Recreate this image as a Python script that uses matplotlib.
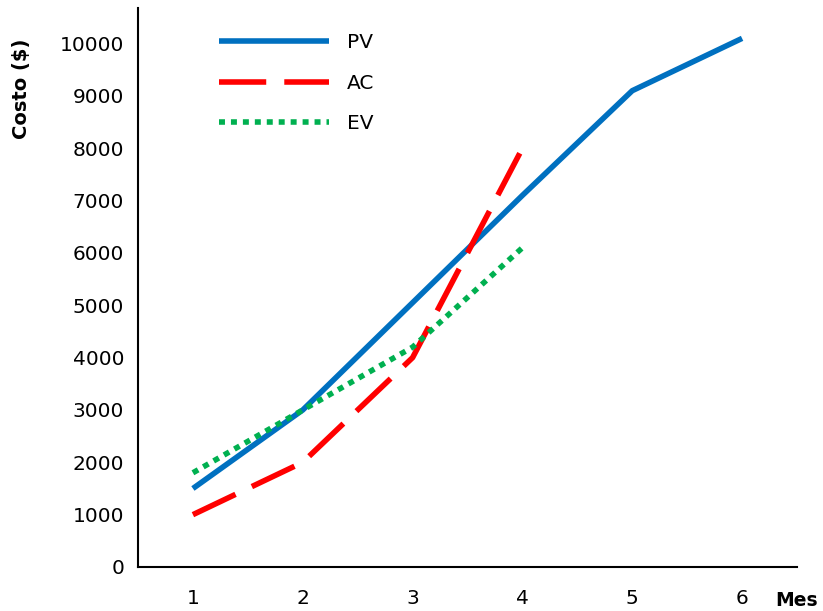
import numpy as np
import matplotlib
matplotlib.use("Agg")
import matplotlib.pyplot as plt

plt.rcParams['font.family'] = ['DejaVu Sans']
plt.rcParams['lines.scale_dashes'] = False

meses = [1, 2, 3, 4, 5, 6]
pv = [1500, 3000, 5050, 7100, 9100, 10100]
ac = [1000, 2000, 4000, 8000]
ev = [1800, 3000, 4200, 6100]

fig = plt.figure(figsize=(8.23, 6.11), dpi=100)
ax = fig.add_axes([138/823, 1 - 567/611, (797 - 138)/823, (567 - 8)/611])

ax.plot(meses, pv, color='#0070C0', lw=4, solid_capstyle='butt', label='PV')
ax.plot(meses[:len(ac)], ac, color='#FF0000', lw=4, dashes=(34, 13),
        dash_capstyle='butt', label='AC')
ax.plot(meses[:len(ev)], ev, color='#00B050', lw=4, dashes=(4.3, 4.3),
        dash_capstyle='butt', label='EV')

ax.set_xlim(0.5, 6.5)
ax.set_ylim(0, 10680)
ax.set_xticks(meses)
ax.set_yticks(np.arange(0, 10001, 1000))
ax.tick_params(length=0, labelsize=14.5, pad=10)
ax.tick_params(axis='x', pad=16)
for s in ['top', 'right']:
    ax.spines[s].set_visible(False)
for s in ['left', 'bottom']:
    ax.spines[s].set_linewidth(1.5)

ax.set_ylabel('Costo ($)', fontsize=14, fontweight='bold')
ax.yaxis.set_label_coords(-0.162, 0.855)
fig.text(797/823, 1 - 601/611, 'Mes', fontsize=13.5, fontweight='bold',
         ha='center', va='center')

ax.legend(loc='upper left', bbox_to_anchor=(0.095, 0.987), frameon=False,
          fontsize=14.5, handlelength=5.5, handletextpad=0.85, labelspacing=1.07)

fig.savefig('out.png', dpi=100)
